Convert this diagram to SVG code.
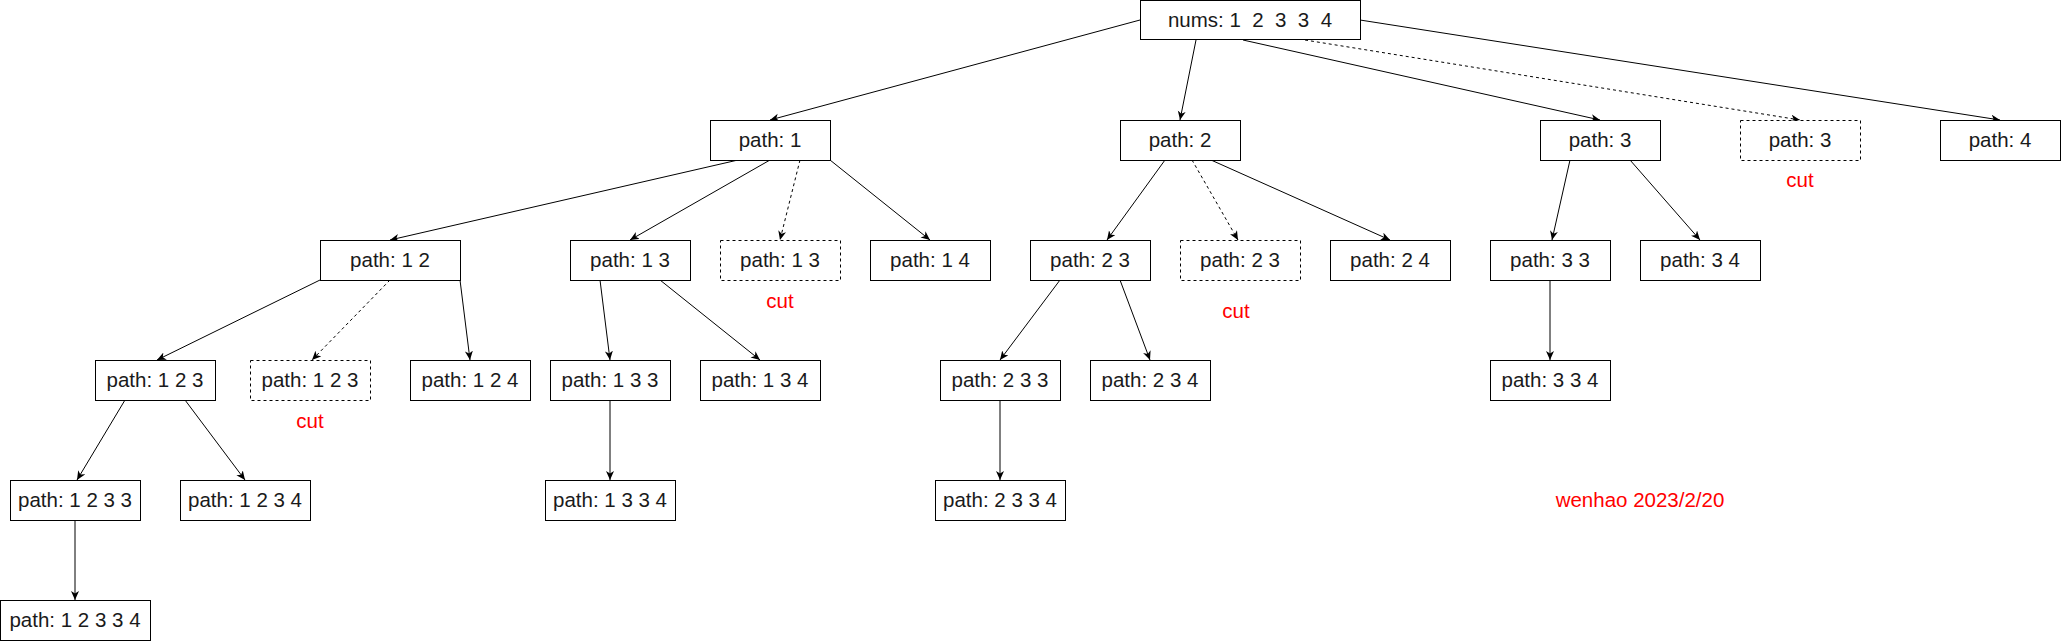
<svg xmlns="http://www.w3.org/2000/svg" width="2062" height="642" viewBox="0 0 2062 642">
<defs>
<marker id="arr" markerUnits="userSpaceOnUse" markerWidth="10" markerHeight="10" refX="9" refY="4" orient="auto">
<path d="M0,0 L9,4 L0,8 L2.5,4 Z" fill="#000" stroke="none"/>
</marker>
<style>
.n rect{fill:#fff;stroke:#000;stroke-width:1}
.n.d rect{stroke-dasharray:3 3}
.n text{font-family:"Liberation Sans",Arial,sans-serif;font-size:20.5px;fill:#1a1a1a;text-anchor:middle}
.e line{stroke:#000;stroke-width:1;fill:none;marker-end:url(#arr)}
.e line.d{stroke-dasharray:3 3}
.note{font-family:"Liberation Sans",Arial,sans-serif;font-size:20.5px;fill:#ff0000;text-anchor:middle}
</style>
</defs>
<rect width="2062" height="642" fill="#fff"/>
<g id="connectors" class="e">
<line x1="1140" y1="20" x2="770" y2="120"/>
<line x1="1196" y1="40" x2="1180" y2="120"/>
<line x1="1243" y1="40" x2="1600" y2="120"/>
<line class="d" x1="1305" y1="40" x2="1800" y2="120"/>
<line x1="1360" y1="20" x2="2000" y2="120"/>
<line x1="738" y1="160" x2="390" y2="240"/>
<line x1="770" y1="160" x2="630" y2="240"/>
<line class="d" x1="800" y1="160" x2="780" y2="240"/>
<line x1="830" y1="160" x2="930" y2="240"/>
<line x1="1165" y1="160" x2="1107" y2="240"/>
<line class="d" x1="1192" y1="160" x2="1238" y2="240"/>
<line x1="1211" y1="160" x2="1390" y2="240"/>
<line x1="1570" y1="160" x2="1552" y2="240"/>
<line x1="1630" y1="160" x2="1700" y2="240"/>
<line x1="1550" y1="280" x2="1550" y2="360"/>
<line x1="320" y1="280" x2="157" y2="360"/>
<line class="d" x1="390" y1="280" x2="312" y2="360"/>
<line x1="460" y1="280" x2="470" y2="360"/>
<line x1="600" y1="280" x2="610" y2="360"/>
<line x1="660" y1="280" x2="760" y2="360"/>
<line x1="610" y1="400" x2="610" y2="480"/>
<line x1="1060" y1="280" x2="1000" y2="360"/>
<line x1="1120" y1="280" x2="1150" y2="360"/>
<line x1="1000" y1="400" x2="1000" y2="480"/>
<line x1="125" y1="400" x2="77" y2="480"/>
<line x1="185" y1="400" x2="245" y2="480"/>
<line x1="75" y1="520" x2="75" y2="600"/>
</g>
<g id="nums" class="n"><rect x="1140.5" y="0.5" width="220" height="39"/><text x="1250" y="27" xml:space="preserve">nums: 1  2  3  3  4</text></g>
<g id="p1" class="n"><rect x="710.5" y="120.5" width="120" height="40"/><text x="770" y="147">path: 1</text></g>
<g id="p2" class="n"><rect x="1120.5" y="120.5" width="120" height="40"/><text x="1180" y="147">path: 2</text></g>
<g id="p3" class="n"><rect x="1540.5" y="120.5" width="120" height="40"/><text x="1600" y="147">path: 3</text></g>
<g id="p3cut" class="n d"><rect x="1740.5" y="120.5" width="120" height="40"/><text x="1800" y="147">path: 3</text></g>
<g id="p4" class="n"><rect x="1940.5" y="120.5" width="120" height="40"/><text x="2000" y="147">path: 4</text></g>
<g id="p12" class="n"><rect x="320.5" y="240.5" width="140" height="40"/><text x="390" y="267">path: 1 2</text></g>
<g id="p13" class="n"><rect x="570.5" y="240.5" width="120" height="40"/><text x="630" y="267">path: 1 3</text></g>
<g id="p13cut" class="n d"><rect x="720.5" y="240.5" width="120" height="40"/><text x="780" y="267">path: 1 3</text></g>
<g id="p14" class="n"><rect x="870.5" y="240.5" width="120" height="40"/><text x="930" y="267">path: 1 4</text></g>
<g id="p23" class="n"><rect x="1030.5" y="240.5" width="120" height="40"/><text x="1090" y="267">path: 2 3</text></g>
<g id="p23cut" class="n d"><rect x="1180.5" y="240.5" width="120" height="40"/><text x="1240" y="267">path: 2 3</text></g>
<g id="p24" class="n"><rect x="1330.5" y="240.5" width="120" height="40"/><text x="1390" y="267">path: 2 4</text></g>
<g id="p33" class="n"><rect x="1490.5" y="240.5" width="120" height="40"/><text x="1550" y="267">path: 3 3</text></g>
<g id="p34" class="n"><rect x="1640.5" y="240.5" width="120" height="40"/><text x="1700" y="267">path: 3 4</text></g>
<g id="p123" class="n"><rect x="95.5" y="360.5" width="120" height="40"/><text x="155" y="387">path: 1 2 3</text></g>
<g id="p123cut" class="n d"><rect x="250.5" y="360.5" width="120" height="40"/><text x="310" y="387">path: 1 2 3</text></g>
<g id="p124" class="n"><rect x="410.5" y="360.5" width="120" height="40"/><text x="470" y="387">path: 1 2 4</text></g>
<g id="p133" class="n"><rect x="550.5" y="360.5" width="120" height="40"/><text x="610" y="387">path: 1 3 3</text></g>
<g id="p134" class="n"><rect x="700.5" y="360.5" width="120" height="40"/><text x="760" y="387">path: 1 3 4</text></g>
<g id="p233" class="n"><rect x="940.5" y="360.5" width="120" height="40"/><text x="1000" y="387">path: 2 3 3</text></g>
<g id="p234" class="n"><rect x="1090.5" y="360.5" width="120" height="40"/><text x="1150" y="387">path: 2 3 4</text></g>
<g id="p334" class="n"><rect x="1490.5" y="360.5" width="120" height="40"/><text x="1550" y="387">path: 3 3 4</text></g>
<g id="p1233" class="n"><rect x="10.5" y="480.5" width="130" height="40"/><text x="75" y="507">path: 1 2 3 3</text></g>
<g id="p1234" class="n"><rect x="180.5" y="480.5" width="130" height="40"/><text x="245" y="507">path: 1 2 3 4</text></g>
<g id="p1334" class="n"><rect x="545.5" y="480.5" width="130" height="40"/><text x="610" y="507">path: 1 3 3 4</text></g>
<g id="p2334" class="n"><rect x="935.5" y="480.5" width="130" height="40"/><text x="1000" y="507">path: 2 3 3 4</text></g>
<g id="p12334" class="n"><rect x="0.5" y="600.5" width="150" height="40"/><text x="75" y="627">path: 1 2 3 3 4</text></g>
<g id="notes">
<text class="note" x="1800" y="187">cut</text>
<text class="note" x="780" y="308">cut</text>
<text class="note" x="1236" y="318">cut</text>
<text class="note" x="310" y="428">cut</text>
<text class="note" x="1640" y="507">wenhao 2023/2/20</text>
</g>
</svg>
